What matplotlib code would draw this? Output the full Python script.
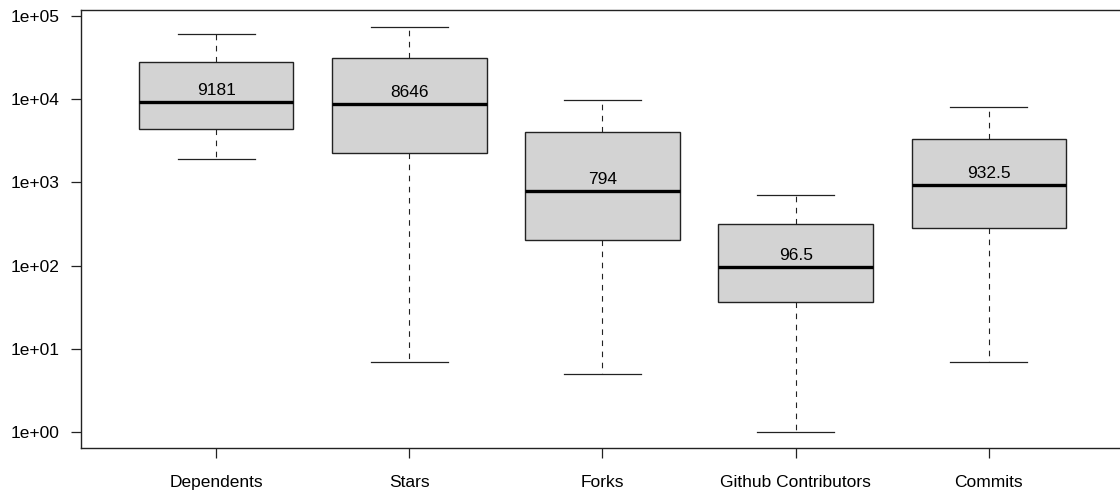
import matplotlib
matplotlib.use("Agg")
import matplotlib.pyplot as plt

# five-number summaries (log scale)
labels = ["Dependents", "Stars", "Forks", "Github Contributors", "Commits"]
whislo = [1890, 7, 5, 1, 7]
q1 = [4350, 2260, 203, 36.5, 283]
med = [9181, 8646, 794, 96.5, 932.5]
q3 = [27700, 31300, 4070, 313, 3330]
whishi = [61300, 74300, 9780, 711, 7990]

plt.rcParams["font.family"] = ["Liberation Sans", "DejaVu Sans"]
plt.rcParams["font.size"] = 12.5

fig = plt.figure(figsize=(11.2, 4.93), dpi=100)
ax = fig.add_axes([81 / 1120, 45 / 493, (1124 - 81) / 1120, 438 / 493])

stats = []
for i, name in enumerate(labels):
    stats.append({"label": name, "whislo": whislo[i], "q1": q1[i], "med": med[i],
                  "q3": q3[i], "whishi": whishi[i], "fliers": []})

pos = list(range(1, len(labels) + 1))
ax.bxp(stats, positions=pos, widths=0.8, patch_artist=True, showfliers=False,
       boxprops=dict(facecolor="#d3d3d3", edgecolor="#222222", linewidth=1.0),
       medianprops=dict(color="black", linewidth=2.4, solid_capstyle="butt"),
       whiskerprops=dict(color="#222222", linewidth=0.8, linestyle=(0, (5, 5))),
       capprops=dict(color="#222222", linewidth=0.9), capwidths=0.4)

for p, m in zip(pos, med):
    ax.annotate(f"{m:g}", (p, m), xytext=(0, 3), textcoords="offset points",
                ha="center", va="bottom", fontsize=12.5)

ax.set_yscale("log")
ax.set_ylim(10 ** -0.192, 10 ** 5.072)
ax.set_xlim(0.3, 5.7)
ax.set_yticks([1, 10, 100, 1000, 10000, 100000])
ax.set_yticklabels(["1e+00", "1e+01", "1e+02", "1e+03", "1e+04", "1e+05"])
ax.minorticks_off()
ax.set_xticks(pos)
ax.set_xticklabels(labels)
ax.tick_params(axis="both", length=7.5, width=0.9, color="#222222", pad=8)
ax.tick_params(axis="x", pad=12)
for s in ax.spines.values():
    s.set_linewidth(1.0)
    s.set_color("#222222")

fig.savefig("out.png", dpi=100)
